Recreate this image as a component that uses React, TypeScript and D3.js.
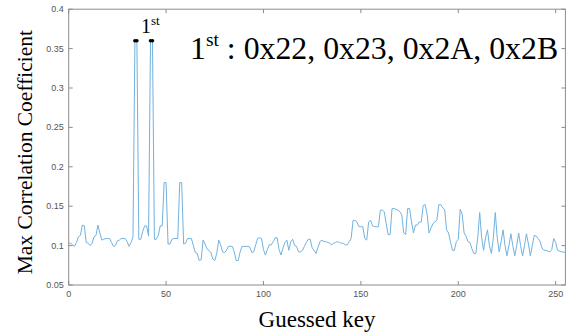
import React from "react";
import * as d3 from "d3";

const keys: number[] = d3.range(256);
const corr: number[] = [
  0.103, 0.103, 0.101, 0.099, 0.104, 0.111, 0.113, 0.126, 0.125, 0.104,
  0.103, 0.100, 0.103, 0.111, 0.113, 0.126, 0.116, 0.107, 0.108, 0.109,
  0.109, 0.109, 0.104, 0.099, 0.100, 0.106, 0.107, 0.109, 0.109, 0.109,
  0.105, 0.099, 0.104, 0.111, 0.360, 0.360, 0.108, 0.108, 0.118, 0.125,
  0.125, 0.112, 0.360, 0.360, 0.108, 0.108, 0.113, 0.125, 0.125, 0.180,
  0.180, 0.102, 0.102, 0.108, 0.109, 0.109, 0.109, 0.180, 0.180, 0.102,
  0.103, 0.109, 0.109, 0.109, 0.100, 0.091, 0.090, 0.081, 0.082, 0.107,
  0.102, 0.096, 0.094, 0.091, 0.083, 0.081, 0.090, 0.107, 0.101, 0.092,
  0.091, 0.094, 0.099, 0.099, 0.099, 0.092, 0.081, 0.081, 0.092, 0.099,
  0.099, 0.099, 0.099, 0.098, 0.091, 0.092, 0.101, 0.109, 0.110, 0.109,
  0.095, 0.088, 0.095, 0.101, 0.101, 0.105, 0.110, 0.110, 0.095, 0.088,
  0.097, 0.104, 0.107, 0.094, 0.105, 0.108, 0.100, 0.099, 0.092, 0.092,
  0.094, 0.099, 0.104, 0.108, 0.108, 0.097, 0.094, 0.090, 0.098, 0.105,
  0.107, 0.105, 0.105, 0.104, 0.103, 0.101, 0.103, 0.104, 0.105, 0.104,
  0.103, 0.103, 0.101, 0.101, 0.105, 0.109, 0.132, 0.132, 0.130, 0.124,
  0.124, 0.124, 0.109, 0.107, 0.130, 0.132, 0.125, 0.124, 0.124, 0.124,
  0.145, 0.145, 0.143, 0.128, 0.114, 0.114, 0.147, 0.147, 0.146, 0.145,
  0.143, 0.139, 0.116, 0.114, 0.147, 0.147, 0.130, 0.116, 0.126, 0.126,
  0.130, 0.130, 0.151, 0.152, 0.140, 0.116, 0.122, 0.128, 0.130, 0.132,
  0.152, 0.152, 0.148, 0.146, 0.120, 0.116, 0.105, 0.094, 0.094, 0.105,
  0.108, 0.146, 0.140, 0.116, 0.112, 0.105, 0.104, 0.096, 0.090, 0.090,
  0.110, 0.142, 0.110, 0.094, 0.110, 0.120, 0.100, 0.090, 0.110, 0.142,
  0.110, 0.092, 0.105, 0.120, 0.100, 0.087, 0.100, 0.115, 0.100, 0.087,
  0.100, 0.116, 0.100, 0.087, 0.100, 0.115, 0.102, 0.087, 0.100, 0.113,
  0.112, 0.109, 0.105, 0.097, 0.094, 0.094, 0.093, 0.092, 0.095, 0.109,
  0.104, 0.094, 0.093, 0.092, 0.092, 0.091,
];
const topKeys: number[] = [34, 35, 42, 43];
const xTicks: number[] = [0, 50, 100, 150, 200, 250];
const yTicks: number[] = [0.05, 0.1, 0.15, 0.2, 0.25, 0.3, 0.35, 0.4];
const yTickLabels: string[] = ["0.05", "0.1", "0.15", "0.2", "0.25", "0.3", "0.35", "0.4"];
const annotationMain = " : 0x22, 0x23, 0x2A, 0x2B";

export default function App() {
  const W = 570, H = 333;
  const left = 68.7, right = 565.4, top = 9.2, bottom = 285;
  const x = d3.scaleLinear().domain([0, 255]).range([left, right]);
  const y = d3.scaleLinear().domain([0.05, 0.4]).range([bottom, top]);
  const line = d3.line<number>().x((_, i) => x(keys[i])).y((d) => y(d));
  const axisColor = "#8c8c8c";
  const tickColor = "#555";
  const tl = 4;
  return (
    <svg width={W} height={H} style={{ position: "absolute", left: 0, top: 0, background: "#fff" }}>
      <rect x={left} y={top} width={right - left} height={bottom - top} fill="none" stroke={axisColor} strokeWidth={1} />
      {xTicks.map((t) => (
        <g key={"xt" + t}>
          <line x1={x(t)} x2={x(t)} y1={bottom} y2={bottom - tl} stroke={axisColor} />
          <line x1={x(t)} x2={x(t)} y1={top} y2={top + tl} stroke={axisColor} />
          <text x={x(t)} y={bottom + 12} fontSize={9} fontFamily="Liberation Sans, Arial, sans-serif" fill={tickColor} textAnchor="middle">{t}</text>
        </g>
      ))}
      {yTicks.map((t, i) => (
        <g key={"yt" + t}>
          <line x1={left} x2={left + tl} y1={y(t)} y2={y(t)} stroke={axisColor} />
          <line x1={right} x2={right - tl} y1={y(t)} y2={y(t)} stroke={axisColor} />
          <text x={left - 5} y={y(t) + 3} fontSize={9} fontFamily="Liberation Sans, Arial, sans-serif" fill={tickColor} textAnchor="end">{yTickLabels[i]}</text>
        </g>
      ))}
      <path d={line(corr) || ""} fill="none" stroke="#72b2de" strokeWidth={1} />
      {topKeys.map((k) => (
        <circle key={"d" + k} cx={x(k)} cy={y(corr[k])} r={1.8} fill="#000" />
      ))}
      <text x={141} y={33} fontSize={20} fontFamily="Liberation Serif, Times New Roman, serif" fill="#000">
        1<tspan fontSize={13} dy={-8}>st</tspan>
      </text>
      <text x={190} y={59} fontSize={31.8} fontFamily="Liberation Serif, Times New Roman, serif" fill="#000">
        1<tspan fontSize={19.5} dy={-13}>st</tspan><tspan dy={13}>{annotationMain}</tspan>
      </text>
      <text x={x(127.5)} y={327} fontSize={23} fontFamily="Liberation Serif, Times New Roman, serif" fill="#000" textAnchor="middle">Guessed key</text>
      <text transform={`translate(32, ${(top + bottom) / 2 + 5}) rotate(-90)`} fontSize={21.5} fontFamily="Liberation Serif, Times New Roman, serif" fill="#000" textAnchor="middle">Max Correlation Coefficient</text>
    </svg>
  );
}
